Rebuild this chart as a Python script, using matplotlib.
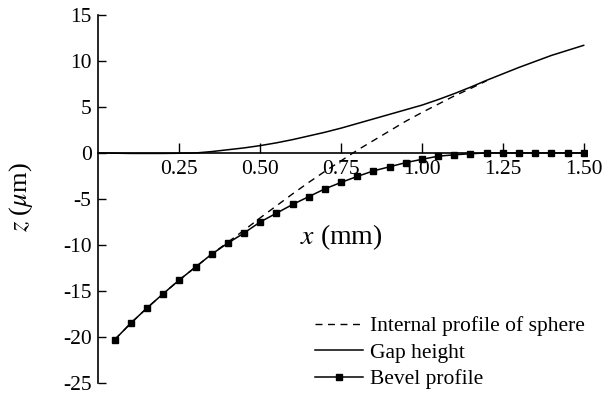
import matplotlib
matplotlib.use("Agg")
import matplotlib.pyplot as plt
import numpy as np

plt.rcParams['font.family'] = ['Liberation Serif', 'DejaVu Serif']
plt.rcParams['mathtext.fontset'] = 'stix'
plt.rcParams['axes.unicode_minus'] = False

# --- data ---
x_bevel = [0.05, 0.10, 0.15, 0.20, 0.25, 0.30, 0.35, 0.40, 0.45, 0.50,
           0.55, 0.60, 0.65, 0.70, 0.75, 0.80, 0.85, 0.90, 0.95, 1.00,
           1.05, 1.10, 1.15, 1.20, 1.25, 1.30, 1.35, 1.40, 1.45, 1.50]
z_bevel = [-20.3, -18.5, -16.85, -15.3, -13.8, -12.4, -11.0, -9.8, -8.7, -7.5,
           -6.55, -5.6, -4.75, -3.9, -3.2, -2.55, -1.95, -1.5, -1.05, -0.69,
           -0.35, -0.2, -0.08, 0.0, 0.0, 0.0, 0.0, 0.0, 0.0, 0.0]

x_sphere = [0.05, 0.10, 0.15, 0.20, 0.25, 0.30, 0.35, 0.40, 0.45, 0.50,
            0.55, 0.60, 0.65, 0.70, 0.75, 0.80, 0.85, 0.90, 0.95, 1.00,
            1.05, 1.10, 1.15, 1.20]
z_sphere = [-20.3, -18.5, -16.85, -15.3, -13.8, -12.4, -11.0, -9.7, -8.4, -7.05,
            -5.75, -4.45, -3.2, -2.0, -0.85, 0.3, 1.35, 2.4, 3.45, 4.4,
            5.3, 6.2, 7.0, 7.85]

x_gap = [0.0, 0.10, 0.20, 0.25, 0.30, 0.35, 0.40, 0.45, 0.50, 0.55,
         0.60, 0.65, 0.70, 0.75, 0.80, 0.85, 0.90, 0.95, 1.00, 1.05,
         1.10, 1.15, 1.20, 1.25, 1.30, 1.35, 1.40, 1.45, 1.50]
z_gap = [0.0, -0.05, -0.05, -0.03, 0.0, 0.15, 0.35, 0.55, 0.8, 1.1,
         1.45, 1.85, 2.25, 2.7, 3.2, 3.7, 4.2, 4.7, 5.2, 5.8,
         6.45, 7.15, 7.9, 8.6, 9.3, 9.95, 10.6, 11.15, 11.7]

xticks = [0.25, 0.50, 0.75, 1.00, 1.25, 1.50]
yticks = [15, 10, 5, 0, -5, -10, -15, -20, -25]

fig = plt.figure(figsize=(6.06, 3.94), dpi=100)
ax = fig.add_axes([0.1625, 0.028, 0.806, 0.934])

ax.plot(x_sphere, z_sphere, 'k--', lw=1.0, dashes=(5, 4), label='Internal profile of sphere')
ax.plot(x_gap, z_gap, 'k-', lw=1.1, label='Gap height')
ax.plot(x_bevel, z_bevel, 'k-', lw=1.1, marker='s', ms=5, label='Bevel profile')

ax.set_xlim(0, 1.51)
ax.set_ylim(-25, 15)
ax.spines['top'].set_visible(False)
ax.spines['right'].set_visible(False)
ax.spines['bottom'].set_position(('data', 0))
ax.spines['bottom'].set_linewidth(1.2)
ax.spines['left'].set_linewidth(1.2)

ax.set_xticks(xticks)
ax.set_xticklabels(['%.2f' % v for v in xticks])
ax.set_yticks(yticks)
ax.tick_params(axis='x', direction='in', length=7, width=1, labelsize=15.5, pad=5)
ax.tick_params(axis='y', direction='in', length=6, width=1, labelsize=15.5, pad=5)

ax.text(0.75, -9.2, '$x$ (mm)', fontsize=20, ha='center', va='center')
fig.text(0.035, 0.5, '$z$ ($\\mu$m)', fontsize=19, rotation=90, ha='center', va='center')

ax.legend(loc='center', bbox_to_anchor=(0.743, 0.105), bbox_transform=fig.transFigure,
          frameon=False, fontsize=15.5, handlelength=2.2, handletextpad=0.35,
          labelspacing=0.3, borderpad=0)

fig.savefig('out.png', dpi=100)
